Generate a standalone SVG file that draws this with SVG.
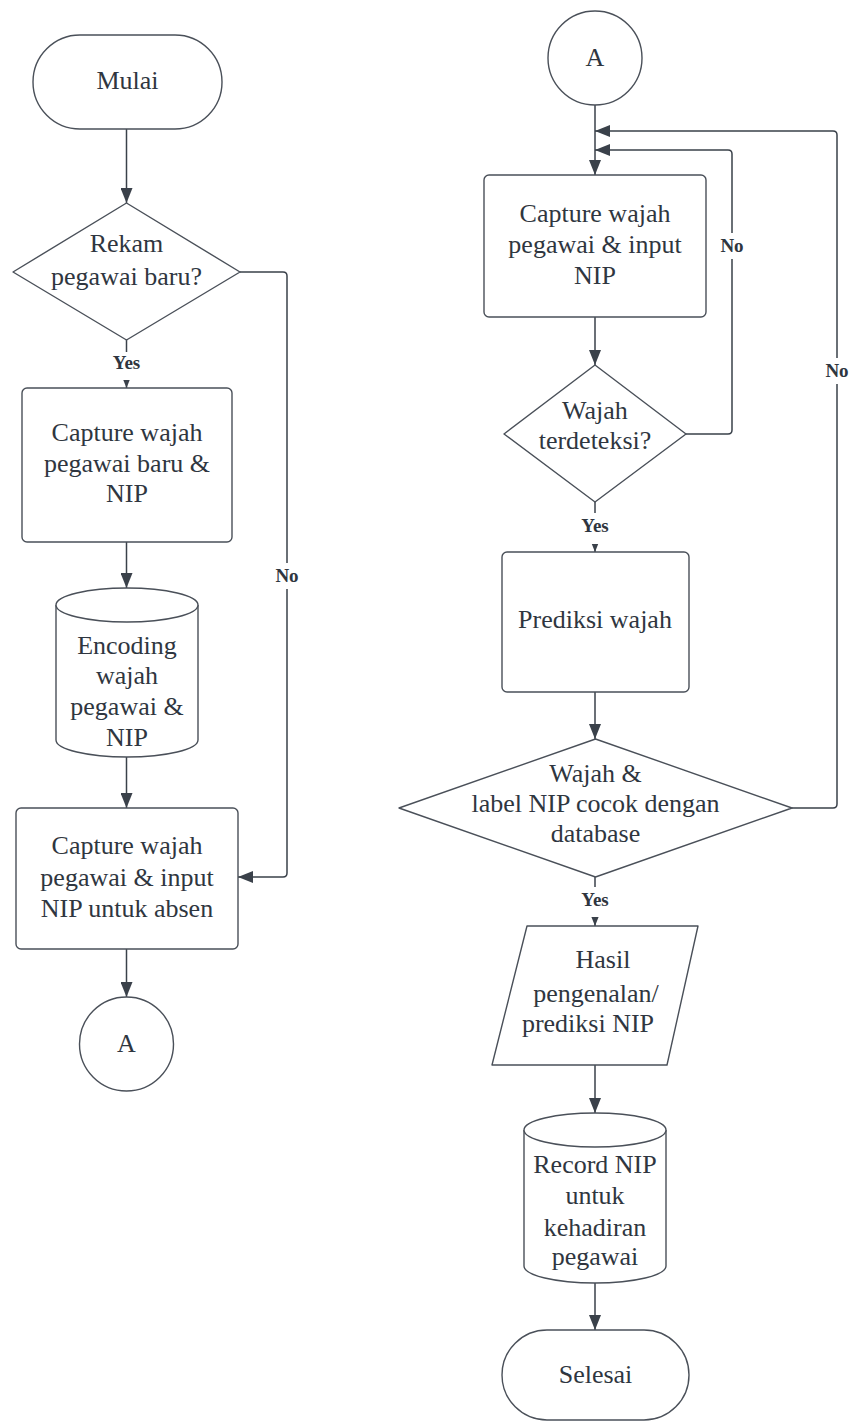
<svg xmlns="http://www.w3.org/2000/svg" width="852" height="1421" viewBox="0 0 852 1421">
  <style>
    .shape { fill: #ffffff; stroke: #4a5059; stroke-width: 1.4; }
    .conn { fill: none; stroke: #3a414a; stroke-width: 1.5; }
    .txt { font-family: "Liberation Serif", "Times New Roman", serif; font-size: 26px; fill: #2f3640; text-anchor: middle; }
    .lbl { font-family: "Liberation Serif", "Times New Roman", serif; font-size: 19px; font-weight: bold; fill: #2f3640; text-anchor: middle; }
    .lblbg { fill: #ffffff; }
  </style>
  <defs>
    <marker id="arr" markerWidth="15" markerHeight="12" refX="15" refY="6" orient="auto" markerUnits="userSpaceOnUse">
      <path d="M0,0 L15,6 L0,12 z" fill="#3a414a"/>
    </marker>
  </defs>

  <rect width="852" height="1421" fill="#ffffff"/>

  <!-- connectors -->
  <g id="connectors">
    <path class="conn" d="M126.5,129 V203" marker-end="url(#arr)"/>
    <path class="conn" d="M126.5,340 V388" marker-end="url(#arr)"/>
    <path class="conn" d="M126.5,542 V588" marker-end="url(#arr)"/>
    <path class="conn" d="M126.5,757 V808" marker-end="url(#arr)"/>
    <path class="conn" d="M240,272 H283 Q287,272 287,276 V873 Q287,877 283,877 H238" marker-end="url(#arr)"/>
    <path class="conn" d="M126.5,949 V997" marker-end="url(#arr)"/>

    <path class="conn" d="M595,105 V175" marker-end="url(#arr)"/>
    <path class="conn" d="M595,317 V365" marker-end="url(#arr)"/>
    <path class="conn" d="M686,434 H728 Q732,434 732,430 V154 Q732,150 728,150 H595" marker-end="url(#arr)"/>
    <path class="conn" d="M595,502 V552" marker-end="url(#arr)"/>
    <path class="conn" d="M595,692 V739" marker-end="url(#arr)"/>
    <path class="conn" d="M792,808 H833 Q837,808 837,804 V135 Q837,131 833,131 H595" marker-end="url(#arr)"/>
    <path class="conn" d="M595,877 V926" marker-end="url(#arr)"/>
    <path class="conn" d="M595,1065 V1113" marker-end="url(#arr)"/>
    <path class="conn" d="M595,1283 V1330" marker-end="url(#arr)"/>

    <!-- connector labels -->
    <rect class="lblbg" x="108" y="352" width="37" height="28"/>
    <text class="lbl" x="126.5" y="369">Yes</text>
    <rect class="lblbg" x="273" y="563" width="28" height="26"/>
    <text class="lbl" x="287" y="582">No</text>
    <rect class="lblbg" x="718" y="233" width="28" height="26"/>
    <text class="lbl" x="732" y="252">No</text>
    <rect class="lblbg" x="823" y="358" width="28" height="26"/>
    <text class="lbl" x="837" y="377">No</text>
    <rect class="lblbg" x="576" y="513" width="38" height="31"/>
    <text class="lbl" x="595" y="532">Yes</text>
    <rect class="lblbg" x="576" y="887" width="38" height="30"/>
    <text class="lbl" x="595" y="906">Yes</text>
  </g>

  <!-- left column -->
  <g id="start">
    <rect class="shape" x="33" y="35" width="189" height="94" rx="47" ry="47"/>
    <text class="txt" x="127.5" y="89">Mulai</text>
  </g>
  <g id="decision-new">
    <polygon class="shape" points="126.5,203 240,272 126.5,340 13,272" stroke-linejoin="round"/>
    <text class="txt" x="126.5" y="252">Rekam</text>
    <text class="txt" x="126.5" y="285">pegawai baru?</text>
  </g>
  <g id="capture-new">
    <rect class="shape" x="22" y="388" width="210" height="154" rx="5"/>
    <text class="txt" x="127" y="441">Capture wajah</text>
    <text class="txt" x="127" y="472">pegawai baru &amp;</text>
    <text class="txt" x="127" y="502">NIP</text>
  </g>
  <g id="encoding-db">
    <path class="shape" d="M56,605 A71,17 0 0 1 198,605 V740 A71,17 0 0 1 56,740 Z"/>
    <path class="shape" fill="none" d="M56,605 A71,17 0 0 0 198,605"/>
    <text class="txt" x="127" y="654">Encoding</text>
    <text class="txt" x="127" y="684">wajah</text>
    <text class="txt" x="127" y="715">pegawai &amp;</text>
    <text class="txt" x="127" y="746">NIP</text>
  </g>
  <g id="capture-absen">
    <rect class="shape" x="16" y="808" width="222" height="141" rx="5"/>
    <text class="txt" x="127" y="854">Capture wajah</text>
    <text class="txt" x="127" y="886">pegawai &amp; input</text>
    <text class="txt" x="127" y="917">NIP untuk absen</text>
  </g>
  <g id="connector-a-out">
    <circle class="shape" cx="126.5" cy="1044" r="47"/>
    <text class="txt" x="126.5" y="1052">A</text>
  </g>

  <!-- right column -->
  <g id="connector-a-in">
    <circle class="shape" cx="595" cy="58" r="47"/>
    <text class="txt" x="595" y="66">A</text>
  </g>
  <g id="capture-input">
    <rect class="shape" x="484" y="175" width="222" height="142" rx="5"/>
    <text class="txt" x="595" y="222">Capture wajah</text>
    <text class="txt" x="595" y="253">pegawai &amp; input</text>
    <text class="txt" x="595" y="284">NIP</text>
  </g>
  <g id="decision-detect">
    <polygon class="shape" points="595,365 686,434 595,502 504,434" stroke-linejoin="round"/>
    <text class="txt" x="595" y="419">Wajah</text>
    <text class="txt" x="595" y="449">terdeteksi?</text>
  </g>
  <g id="predict">
    <rect class="shape" x="502" y="552" width="187" height="140" rx="5"/>
    <text class="txt" x="595" y="628">Prediksi wajah</text>
  </g>
  <g id="decision-match">
    <polygon class="shape" points="595.5,739 792,808 595.5,877 399,808" stroke-linejoin="round"/>
    <text class="txt" x="595.5" y="782">Wajah &amp;</text>
    <text class="txt" x="595.5" y="812">label NIP cocok dengan</text>
    <text class="txt" x="595.5" y="842">database</text>
  </g>
  <g id="result">
    <polygon class="shape" points="527,926 698,926 667,1065 492,1065" stroke-linejoin="round"/>
    <text class="txt" x="603" y="968">Hasil</text>
    <text class="txt" x="596" y="1002">pengenalan/</text>
    <text class="txt" x="588" y="1032">prediksi NIP</text>
  </g>
  <g id="record-db">
    <path class="shape" d="M524,1130 A71,17 0 0 1 666,1130 V1266 A71,17 0 0 1 524,1266 Z"/>
    <path class="shape" fill="none" d="M524,1130 A71,17 0 0 0 666,1130"/>
    <text class="txt" x="595" y="1173">Record NIP</text>
    <text class="txt" x="595" y="1204">untuk</text>
    <text class="txt" x="595" y="1236">kehadiran</text>
    <text class="txt" x="595" y="1265">pegawai</text>
  </g>
  <g id="end">
    <rect class="shape" x="502" y="1330" width="187" height="90" rx="45" ry="45"/>
    <text class="txt" x="595.5" y="1383">Selesai</text>
  </g>
</svg>
